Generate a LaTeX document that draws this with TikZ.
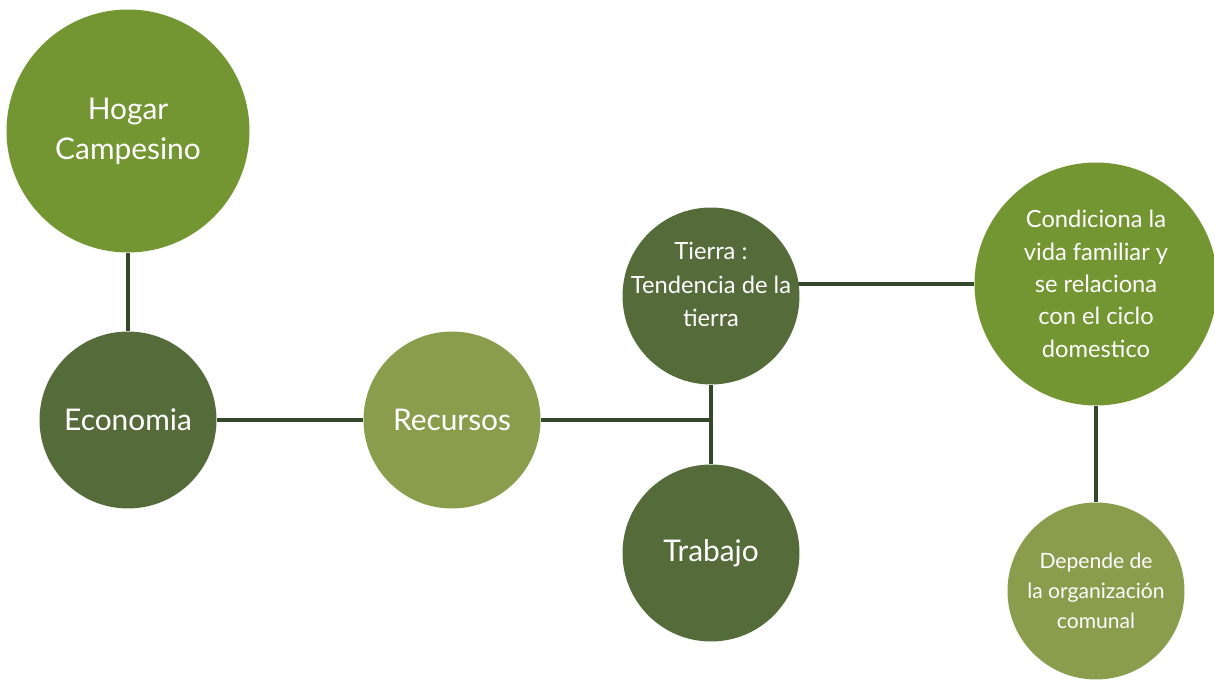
\documentclass[tikz,border=0pt]{standalone}
\usepackage{fontspec}
\setmainfont{Lato}
\usetikzlibrary{backgrounds}
\definecolor{leaf}{HTML}{739532}
\definecolor{moss}{HTML}{566B3A}
\definecolor{sage}{HTML}{8A9D4D}
\definecolor{stem}{HTML}{34492A}
\tikzset{
  % round bubbles with white text
  bubble/.style={circle, text=white, align=center, inner sep=-30pt},
  leafnode/.style={bubble, fill=leaf, minimum size=4.86cm},
  mossnode/.style={bubble, fill=moss, minimum size=3.54cm},
  sagenode/.style={bubble, fill=sage, minimum size=3.54cm},
  link/.style={draw=stem, line width=2.6pt},
}
\begin{document}
\begin{tikzpicture}[x=0.02cm, y=-0.02cm]
            \useasboundingbox (0,0) rectangle (1214,682);

            \node[leafnode, font=\fontsize{17}{22.7}\selectfont] (hogar) at (128,131) {Hogar\\Campesino};
            \node[mossnode, font=\fontsize{17}{20}\selectfont] (econ) at (128,420) {Economia};
            \node[sagenode, font=\fontsize{17}{20}\selectfont] (recursos) at (452,420) {Recursos};
            \node[mossnode, font=\fontsize{13.5}{19}\selectfont] (tierra) at (711,296) {Tierra :\\Tendencia de la\\tierra\\[-6pt]};
            \node[mossnode, font=\fontsize{17}{20}\selectfont] (trabajo) at (711,553) {Trabajo};
            \node[leafnode, font=\fontsize{13.5}{18.4}\selectfont] (cond) at (1096,284) {Condiciona la\\vida familiar y\\se relaciona\\con el ciclo\\domestico};
            \node[sagenode, font=\fontsize{12}{17}\selectfont] (depende) at (1096,591) {Depende de\\la organización\\comunal};

            \begin{scope}[on background layer]
                \draw[link] (hogar) -- (econ);
                \draw[link] (econ) -- (recursos);
                \draw[link] (recursos) -| (tierra);
                \draw[link] (tierra) -- (trabajo);
                \draw[link] (cond) -- (cond -| tierra);
                \draw[link] (cond) -- (depende);
            \end{scope}
        \end{tikzpicture}
\end{document}
